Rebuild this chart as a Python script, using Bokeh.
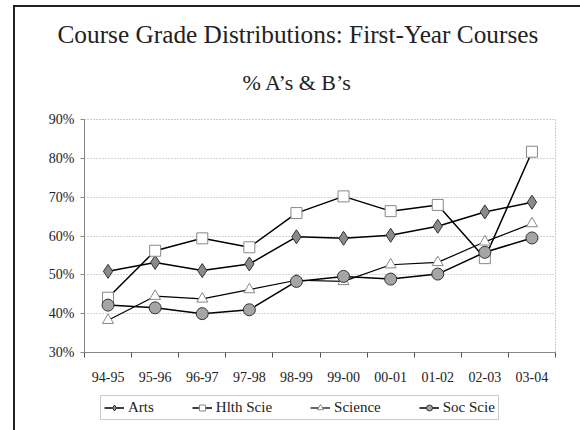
from bokeh.plotting import figure
from bokeh.layouts import column
from bokeh.models import (Range1d, FixedTicker, NumeralTickFormatter, Title,
                          Legend, LegendItem)
from bokeh.embed import file_html
from bokeh.resources import INLINE

years = ["94-95", "95-96", "96-97", "97-98", "98-99", "99-00", "00-01", "01-02", "02-03", "03-04"]
arts = [0.509, 0.532, 0.511, 0.528, 0.598, 0.594, 0.602, 0.625, 0.662, 0.687]
hlth = [0.441, 0.562, 0.594, 0.571, 0.659, 0.702, 0.664, 0.680, 0.543, 0.817]
science = [0.383, 0.445, 0.438, 0.462, 0.486, 0.483, 0.526, 0.532, 0.585, 0.632]
soc = [0.422, 0.415, 0.400, 0.410, 0.483, 0.496, 0.489, 0.502, 0.558, 0.595]
y_ticks = [0.3, 0.4, 0.5, 0.6, 0.7, 0.8, 0.9]
series_names = ["Arts", "Hlth Scie", "Science", "Soc Scie"]

FONT = "Liberation Serif"
x = [i + 0.5 for i in range(len(years))]
all_series = [arts, hlth, science, soc]

styles = [
    dict(marker="diamond", size=14, fill_color="#8a8a8a", line_color="#333333", lw=1.5),
    dict(marker="square", size=11, fill_color="white", line_color="#888888", lw=1.5),
    dict(marker="triangle", size=11, fill_color="white", line_color="#888888", lw=1.2),
    dict(marker="circle", size=12, fill_color="#a5a5a5", line_color="#333333", lw=1.5),
]

p = figure(width=565, height=385, output_backend="svg", toolbar_location=None,
           x_range=Range1d(0, len(years)), y_range=Range1d(y_ticks[0], y_ticks[-1]),
           min_border_left=69, min_border_right=25, min_border_top=112,
           min_border_bottom=40, background_fill_color="white",
           border_fill_color="white")

p.outline_line_color = "#999999"
p.outline_line_dash = "1 2"

# axes
p.xaxis.ticker = FixedTicker(ticks=x, minor_ticks=list(range(len(years) + 1)))
p.xaxis.major_label_overrides = {xx: y for xx, y in zip(x, years)}
p.xaxis.major_tick_line_color = None
p.xaxis.major_tick_out = 0
p.xaxis.major_tick_in = 0
p.xaxis.minor_tick_out = 5
p.xaxis.minor_tick_in = 0
p.xaxis.minor_tick_line_color = "#555555"
p.xaxis.axis_line_color = "#888888"
p.xaxis.major_label_standoff = 14
p.xaxis.major_label_text_font = FONT
p.xaxis.major_label_text_font_size = "14px"
p.xaxis.major_label_text_color = "#222222"

p.yaxis.ticker = FixedTicker(ticks=y_ticks)
p.yaxis.formatter = NumeralTickFormatter(format="0%")
p.yaxis.major_tick_out = 4
p.yaxis.major_tick_in = 0
p.yaxis.minor_tick_line_color = None
p.yaxis.axis_line_color = "#888888"
p.yaxis.major_tick_line_color = "#888888"
p.yaxis.major_label_standoff = 6
p.yaxis.major_label_text_font = FONT
p.yaxis.major_label_text_font_size = "14px"
p.yaxis.major_label_text_color = "#222222"

p.xgrid.grid_line_color = None
p.ygrid.grid_line_color = "#aaaaaa"
p.ygrid.grid_line_dash = "1 2"

# series
for vals, st in zip(all_series, styles):
    p.line(x, vals, line_color="black", line_width=st["lw"])
    p.scatter(x, vals, marker=st["marker"], size=st["size"], fill_color=st["fill_color"],
              line_color=st["line_color"], line_width=1)

# titles (first added sits closest to the plot)
p.add_layout(Title(text="% A\u2019s & B\u2019s", align="left", offset=158,
                   vertical_align="top",
                   text_font=FONT, text_font_size="22px", text_font_style="normal",
                   text_color="#222222", standoff=45), "above")
p.add_layout(Title(text="Course Grade Distributions: First-Year Courses", align="left",
                   vertical_align="bottom",
                   offset=-27, text_font=FONT, text_font_size="25.3px",
                   text_font_style="normal", text_color="#222222", standoff=0), "above")

# legend strip below the chart (its own view range lies away from the data,
# so only the legend keys are drawn)
pl = figure(width=565, height=38, output_backend="svg", toolbar_location=None,
            x_axis_location=None, y_axis_location=None, min_border=0,
            x_range=Range1d(-20, -19), y_range=Range1d(-20, -19),
            background_fill_color="white", border_fill_color="white")
pl.outline_line_color = None
pl.grid.grid_line_color = None
items = []
for name, vals, st in zip(series_names, all_series, styles):
    l = pl.line(x, vals, line_color="black", line_width=st["lw"])
    m = pl.scatter(x, vals, marker=st["marker"], size=st["size"], fill_color=st["fill_color"],
                   line_color=st["line_color"], line_width=1)
    items.append(LegendItem(label=name, renderers=[l, m]))
legend = Legend(items=items, orientation="horizontal", location=(16, 10),
                label_text_font=FONT, label_text_font_size="15px",
                label_text_color="#222222", glyph_width=20, glyph_height=15,
                label_height=15, label_standoff=4, spacing=38, padding=3,
                margin=0, border_line_color="#999999", border_line_width=1,
                background_fill_color="white")
pl.add_layout(legend, "center")

layout = column(p, pl, spacing=0,
                styles={"margin-left": "13px", "margin-top": "5px",
                        "border-left": "2px solid #222222",
                        "border-top": "2px solid #222222"})

open("out.html", "w").write(file_html(layout, INLINE))
